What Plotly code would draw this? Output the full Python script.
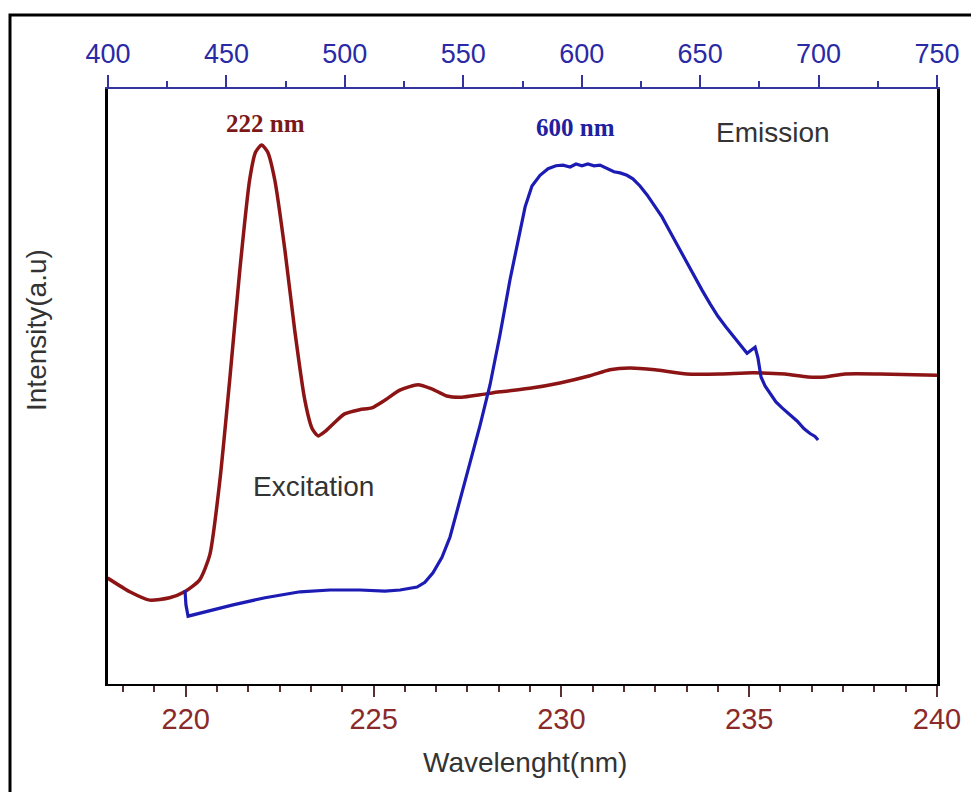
import plotly.graph_objects as go

# Excitation spectrum (bottom axis, nm)
exc_wl = [217.92, 218.51, 219.04, 219.57, 219.97, 220.37, 220.64, 220.91, 221.17, 221.44,
          221.70, 221.86, 222.02, 222.18, 222.37, 222.64, 222.90, 223.17, 223.36, 223.52,
          223.70, 223.97, 224.23, 224.63, 224.95, 225.30, 225.70, 226.18, 226.55, 226.95,
          227.35, 227.83, 228.36, 229.16, 229.96, 230.76, 231.29, 231.82, 232.49, 233.34,
          234.22, 235.10, 235.95, 236.56, 237.02, 237.55, 238.48, 240.00]
exc_int = [17.8, 15.5, 14.1, 14.5, 15.5, 17.5, 21.7, 34.3, 51.1, 69.6,
           84.7, 89.4, 90.6, 89.4, 84.7, 72.9, 59.5, 47.7, 43.0, 41.7,
           42.4, 44.0, 45.4, 46.1, 46.4, 47.7, 49.4, 50.3, 49.6, 48.4,
           48.2, 48.6, 49.1, 49.7, 50.6, 51.8, 52.8, 53.1, 52.8, 52.1,
           52.1, 52.3, 52.1, 51.6, 51.6, 52.1, 52.1, 51.9]

# Emission spectrum (top axis, nm)
em_wl = [432.5, 432.9, 433.8, 438.8, 452.8, 466.3, 481.1, 493.7, 506.4, 516.9,
         523.3, 530.5, 533.8, 537.2, 541.0, 544.4, 548.6, 552.8, 557.1, 561.3,
         565.5, 569.7, 573.1, 576.1, 579.0, 582.4, 585.8, 589.1, 592.1, 595.1,
         597.6, 600.1, 602.6, 605.2, 607.7, 610.7, 613.6, 616.2, 619.1, 621.6,
         624.6, 627.6, 630.5, 633.9, 637.3, 640.6, 644.0, 647.4, 650.8, 654.2,
         657.5, 660.9, 664.3, 667.2, 669.8, 671.5, 673.2, 674.4, 675.7, 677.4,
         679.5, 682.0, 684.6, 687.9, 690.9, 693.9, 696.4, 698.5, 699.8]
em_int = [15.8, 13.3, 11.4, 11.9, 13.3, 14.5, 15.5, 15.8, 15.8, 15.6,
          15.8, 16.3, 17.1, 18.7, 21.3, 24.7, 30.9, 37.6, 43.5, 50.3,
          58.7, 67.9, 74.6, 80.2, 83.7, 85.5, 86.6, 87.1, 87.2, 86.9,
          87.4, 87.1, 87.4, 87.1, 87.2, 86.6, 86.1, 85.9, 85.5, 84.9,
          83.7, 82.2, 80.5, 78.5, 76.0, 73.6, 70.9, 68.6, 66.2, 63.9,
          61.8, 60.0, 58.3, 56.8, 55.6, 56.1, 56.6, 54.8, 51.6, 50.1,
          48.9, 47.4, 46.4, 45.2, 44.2, 42.9, 42.1, 41.6, 41.0]

bottom_ticks = [220, 225, 230, 235, 240]
top_ticks = [400, 450, 500, 550, 600, 650, 700, 750]

RED = "#8c1414"
BLUE = "#1c1cb4"
RED_TXT = "#8a2a2a"
BLUE_TXT = "#2a2aa6"
SANS = "Liberation Sans, Arial, sans-serif"
SERIF = "Liberation Serif, Times New Roman, serif"

fig = go.Figure()
fig.add_trace(go.Scatter(x=exc_wl, y=exc_int, mode="lines",
                         line=dict(color=RED, width=3.5, shape="spline", smoothing=0.6),
                         xaxis="x", yaxis="y", showlegend=False))
fig.add_trace(go.Scatter(x=em_wl, y=em_int, mode="lines",
                         line=dict(color=BLUE, width=3.2),
                         xaxis="x2", yaxis="y", showlegend=False))

# page body adds an 8px offset; compensate so positions match the reference
OFF = 8
W, H = 979, 792
PL, PR, PT, PB = 108, 937, 89, 684  # plot area in reference pixels
L, T = PL - OFF, PT - OFF
R = W - (PR - OFF)
B = H - (PB - OFF)
pw, ph = PR - PL, PB - PT

def px(x):
    return (x - PL) / pw

def py(y):
    return (PB - y) / ph

def label(text, x, y, size, color, family=SANS, angle=0):
    return dict(text=text, x=px(x), y=py(y), xref="paper", yref="paper",
                xanchor="center", yanchor="middle", showarrow=False, textangle=angle,
                font=dict(size=size, color=color, family=family))

fig.update_layout(
    width=W, height=H,
    margin=dict(l=L, r=R, t=T, b=B, pad=0),
    paper_bgcolor="white", plot_bgcolor="white",
    font=dict(family=SANS),
    xaxis=dict(range=[217.93, 240], tickvals=bottom_ticks, showgrid=False, zeroline=False,
               showline=True, linecolor="black", linewidth=2,
               ticks="outside", ticklen=11, tickwidth=1.5, tickcolor="#5a3030",
               ticklabelstandoff=-3,
               tickfont=dict(size=29, color=RED_TXT),
               minor=dict(dtick=5/6, tick0=220, ticks="outside", ticklen=6, tickcolor="#5a3030",
                          showgrid=False)),
    xaxis2=dict(range=[400, 750], tickvals=top_ticks, overlaying="x", side="top",
                showgrid=False, zeroline=False,
                showline=True, linecolor="#3434a0", linewidth=2,
                ticks="outside", ticklen=12, tickwidth=1.5, tickcolor="#3434a0",
                ticklabelstandoff=1,
                tickfont=dict(size=27, color=BLUE_TXT),
                minor=dict(dtick=25, tick0=400, ticks="outside", ticklen=6, tickcolor="#3434a0",
                           showgrid=False)),
    yaxis=dict(range=[0, 100], showgrid=False, zeroline=False, showticklabels=False,
               ticks="", showline=True, linecolor="black", linewidth=3, mirror=True),
    shapes=[dict(type="rect", xref="paper", yref="paper",
                 x0=px(10), x1=px(1000), y0=py(815), y1=py(15),
                 line=dict(color="black", width=3), fillcolor="rgba(0,0,0,0)", layer="above")],
    annotations=[
        label("Intensity(a.u)", 36, 330, 28, "#333333", angle=-90),
        label("Wavelenght(nm)", 525, 762, 28, "#333333"),
        label("<b>222 nm</b>", 265, 123, 25, "#7a1818", SERIF),
        label("<b>600 nm</b>", 575, 127, 25, "#2020a0", SERIF),
        label("Emission", 773, 133, 28, "#333333"),
        label("Excitation", 313, 486, 28, "#333333"),
    ],
)

fig.write_html("out.html")
